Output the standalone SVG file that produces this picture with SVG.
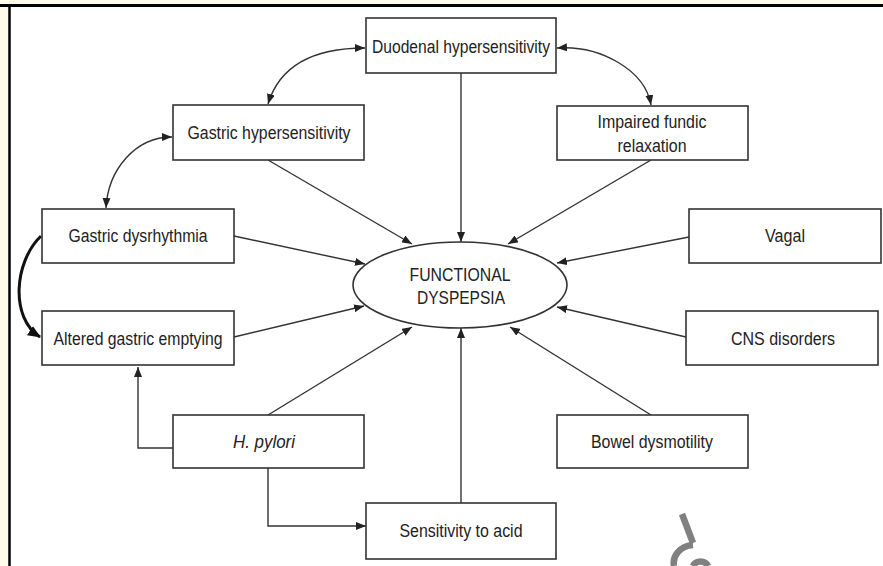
<svg xmlns="http://www.w3.org/2000/svg" width="883" height="566" viewBox="0 0 883 566">
<defs>
<marker id="ah" viewBox="0 0 10 8" refX="10" refY="4" markerWidth="10" markerHeight="8" markerUnits="userSpaceOnUse" orient="auto">
<path d="M0,0 L10,4 L0,8 Z" fill="#222"/>
</marker>
<marker id="ahs" viewBox="0 0 10 8" refX="10" refY="4" markerWidth="10" markerHeight="8" markerUnits="userSpaceOnUse" orient="auto-start-reverse">
<path d="M0,0 L10,4 L0,8 Z" fill="#222"/>
</marker>
<marker id="ahb" viewBox="0 0 12 10" refX="11" refY="5" markerWidth="13" markerHeight="11" markerUnits="userSpaceOnUse" orient="auto">
<path d="M0,0 L12,5 L0,10 Z" fill="#111"/>
</marker>
<style>
.box{fill:#fff;stroke:#333;stroke-width:1.6}
.t{font-family:"Liberation Sans",Arial,sans-serif;font-size:17.5px;fill:#222;text-anchor:middle}
.c{fill:none;stroke:#333;stroke-width:1.4}
</style>
</defs>
<rect x="0" y="0" width="883" height="566" fill="#fefbea"/>
<rect x="10" y="6" width="873" height="560" fill="#fff"/>
<line x1="0" y1="5.5" x2="883" y2="5.5" stroke="#000" stroke-width="3"/>
<line x1="9.5" y1="4" x2="9.5" y2="566" stroke="#000" stroke-width="2.5"/>

<g id="connectors">
<line class="c" x1="461" y1="73" x2="461" y2="242" marker-end="url(#ah)"/>
<line class="c" x1="461" y1="503" x2="461" y2="328" marker-end="url(#ah)"/>
<line class="c" x1="268" y1="160" x2="412" y2="244" marker-end="url(#ah)"/>
<line class="c" x1="651" y1="160" x2="508" y2="244" marker-end="url(#ah)"/>
<line class="c" x1="234" y1="236" x2="365" y2="264" marker-end="url(#ah)"/>
<line class="c" x1="234" y1="337" x2="364" y2="306" marker-end="url(#ah)"/>
<line class="c" x1="689" y1="237" x2="557" y2="263" marker-end="url(#ah)"/>
<line class="c" x1="686" y1="337" x2="557" y2="307" marker-end="url(#ah)"/>
<line class="c" x1="268" y1="415" x2="412" y2="327" marker-end="url(#ah)"/>
<line class="c" x1="651" y1="415" x2="510" y2="327" marker-end="url(#ah)"/>
<path class="c" d="M173,448 H138 V367" marker-end="url(#ah)"/>
<path class="c" d="M268,468 V526 H366" marker-end="url(#ah)"/>
<path class="c" d="M268,104 Q285,48 365,48" marker-start="url(#ahs)" marker-end="url(#ah)"/>
<path class="c" d="M557,48 C600,45 645,70 651,105" marker-start="url(#ahs)" marker-end="url(#ah)"/>
<path class="c" d="M172,137 C135,137 108,170 106,208" marker-start="url(#ahs)" marker-end="url(#ah)"/>
<path d="M41,236 C14,262 10,318 40,337" fill="none" stroke="#111" stroke-width="3" marker-end="url(#ahb)"/>
</g>

<g id="n-duodenal"><rect class="box" x="366" y="18" width="190" height="55"/><text class="t" x="461" y="53" textLength="178" lengthAdjust="spacingAndGlyphs">Duodenal hypersensitivity</text></g>
<g id="n-gastric-hyper"><rect class="box" x="173" y="105" width="191" height="55"/><text class="t" x="269" y="139" textLength="163" lengthAdjust="spacingAndGlyphs">Gastric hypersensitivity</text></g>
<g id="n-fundic"><rect class="box" x="557" y="106" width="191" height="54"/><text class="t" x="652" y="128" textLength="109" lengthAdjust="spacingAndGlyphs">Impaired fundic</text><text class="t" x="652" y="152" textLength="69" lengthAdjust="spacingAndGlyphs">relaxation</text></g>
<g id="n-dysrhythmia"><rect class="box" x="42" y="209" width="192" height="54"/><text class="t" x="138" y="242" textLength="139" lengthAdjust="spacingAndGlyphs">Gastric dysrhythmia</text></g>
<g id="n-emptying"><rect class="box" x="42" y="311" width="192" height="54"/><text class="t" x="138" y="345" textLength="169" lengthAdjust="spacingAndGlyphs">Altered gastric emptying</text></g>
<g id="n-vagal"><rect class="box" x="689" y="209" width="192" height="54"/><text class="t" x="785" y="242" textLength="40" lengthAdjust="spacingAndGlyphs">Vagal</text></g>
<g id="n-cns"><rect class="box" x="686" y="311" width="192" height="54"/><text class="t" x="783" y="345" textLength="104" lengthAdjust="spacingAndGlyphs">CNS disorders</text></g>
<g id="n-hpylori"><rect class="box" x="173" y="415" width="191" height="53"/><text class="t" x="264" y="448" font-style="italic" textLength="62" lengthAdjust="spacingAndGlyphs">H. pylori</text></g>
<g id="n-acid"><rect class="box" x="366" y="503" width="190" height="56"/><text class="t" x="461" y="537" textLength="123" lengthAdjust="spacingAndGlyphs">Sensitivity to acid</text></g>
<g id="n-bowel"><rect class="box" x="557" y="415" width="191" height="53"/><text class="t" x="652" y="448" textLength="122" lengthAdjust="spacingAndGlyphs">Bowel dysmotility</text></g>
<g id="n-fd"><ellipse cx="460" cy="285" rx="107" ry="43" fill="#fff" stroke="#333" stroke-width="1.6"/><text class="t" x="460" y="281" textLength="101" lengthAdjust="spacingAndGlyphs">FUNCTIONAL</text><text class="t" x="461" y="304" textLength="88" lengthAdjust="spacingAndGlyphs">DYSPEPSIA</text></g>

<g id="watermark" fill="none" stroke="#808080" stroke-width="6.5">
<path d="M682,514 L693,543"/>
<path d="M693,545 C680,546 672,556 674,566"/>
<path d="M693,566 A8,7 0 0 1 708,566"/>
</g>
</svg>
